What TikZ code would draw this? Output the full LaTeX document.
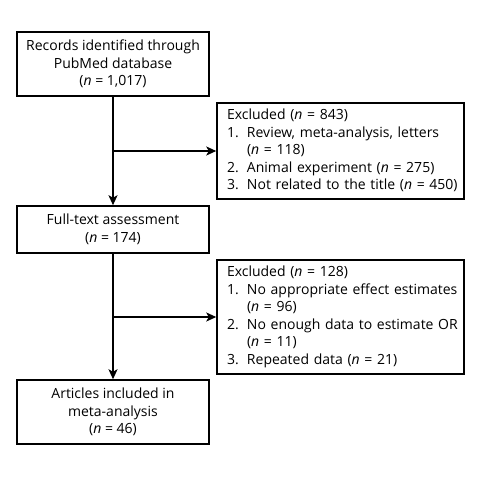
\documentclass[tikz,border=0pt]{standalone}
\usepackage{fontspec}
\setmainfont{Open Sans}
\usetikzlibrary{arrows.meta}
\tikzset{
  box/.style={draw=black, line width=1.5pt, minimum width=192pt, inner sep=0pt, align=center, font=\fontsize{14}{17.5}\selectfont},
  exbox/.style={draw=black, line width=1.5pt, minimum width=247pt, text width=227pt, inner xsep=10pt, inner ysep=0pt, align=left, font=\fontsize{14}{17.5}\selectfont},
  flow/.style={line width=1.5pt, -{Stealth[length=10pt,width=9pt,inset=2.5pt]}}
}
\begin{document}
\begin{tikzpicture}[x=1pt,y=1pt]
\useasboundingbox[fill=white] (0,0) rectangle (497,-476);
\node[box, minimum height=64pt] (rec) at (113,-64) {Records identified through\\PubMed database\\(\textit{n} = 1,017)};
\node[box, minimum height=47pt] (full) at (113,-229.5) {Full-text assessment\\(\textit{n} = 174)};
\node[box, minimum height=64pt] (art) at (113,-412) {Articles included in\\meta-analysis\\(\textit{n} = 46)};
\node[exbox, minimum height=96pt] (ex1) at (340.5,-151) {\begin{tabular}{@{}p{20pt}@{}l@{}}
\multicolumn{2}{@{}l@{}}{Excluded (\textit{n} = 843)}\\
1. & Review, meta-analysis, letters\\
 & (\textit{n} = 118)\\
2. & Animal experiment (\textit{n} = 275)\\
3. & Not related to the title (\textit{n} = 450)
\end{tabular}};
\node[exbox, minimum height=114pt] (ex2) at (340.5,-317) {\begin{tabular}{@{}p{20pt}@{}l@{}}
\multicolumn{2}{@{}l@{}}{Excluded (\textit{n} = 128)}\\
1. & No appropriate effect estimates\\
 & (\textit{n} = 96)\\
2. & No enough data to estimate OR\\
 & (\textit{n} = 11)\\
3. & Repeated data (\textit{n} = 21)
\end{tabular}};
\coordinate (b1) at (rec.south |- ex1.west);
\coordinate (b2) at (full.south |- ex2.west);
\draw[flow] (rec.south) -- (full.north);
\draw[flow] (b1) -- (ex1.west);
\draw[flow] (full.south) -- (art.north);
\draw[flow] (b2) -- (ex2.west);
\end{tikzpicture}
\end{document}
